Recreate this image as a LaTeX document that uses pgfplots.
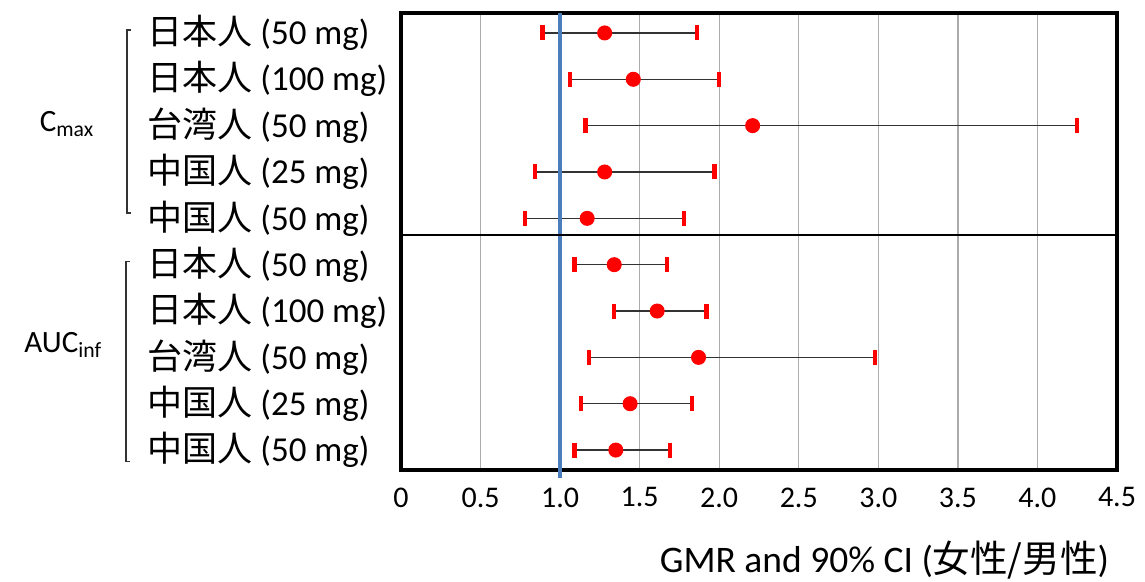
\documentclass[border=0pt]{standalone}
\usepackage{pgfplots}
\usepackage{pgfplotstable}
\pgfplotsset{compat=1.18}
\usepackage{fontspec}
\setmainfont{Carlito}
\newfontfamily\cjk{Noto Sans CJK JP}
\definecolor{refblue}{RGB}{74,126,187}

% GMR with lower and upper limit of the 90% CI, rows from top (0) to bottom (9)
\pgfplotstableread{
y gmr lo hi
0 1.28 0.89 1.86
1 1.46 1.06 2.00
2 2.21 1.16 4.25
3 1.28 0.84 1.97
4 1.17 0.78 1.78
5 1.34 1.09 1.67
6 1.61 1.34 1.92
7 1.87 1.18 2.98
8 1.44 1.13 1.83
9 1.35 1.09 1.69
}\gmrdata

\begin{document}
\begin{tikzpicture}
\begin{axis}[
  at={(0,0)}, anchor=south west,
  scale only axis,
  width=286.4pt, height=182.8pt,
  xmin=0, xmax=4.5,
  ymin=-0.43, ymax=9.43,
  y dir=reverse,
  axis line style={black, line width=1.3pt},
  xtick={0,0.5,...,4.5},
  xticklabels={0,0.5,1.0,1.5,2.0,2.5,3.0,3.5,4.0,4.5},
  xticklabel style={font=\fontsize{12}{14}\selectfont, yshift=-3.5pt},
  ytick={0,...,9},
  yticklabels={
    {\cjk 日本人} (50 mg), {\cjk 日本人} (100 mg), {\cjk 台湾人} (50 mg),
    {\cjk 中国人} (25 mg), {\cjk 中国人} (50 mg),
    {\cjk 日本人} (50 mg), {\cjk 日本人} (100 mg), {\cjk 台湾人} (50 mg),
    {\cjk 中国人} (25 mg), {\cjk 中国人} (50 mg)},
  yticklabel style={font=\fontsize{14}{16}\selectfont, anchor=west, inner sep=0pt, xshift=-101.6pt},
  major tick length=0pt,
  xmajorgrids,
  grid style={gray!65, line width=0.5pt},
  xlabel={GMR and 90\% CI ({\cjk 女性/男性})},
  xlabel style={font=\fontsize{15}{17}\selectfont, at={(axis description cs:1,0)}, anchor=north east, inner sep=0pt, yshift=-28pt, xshift=-3pt},
  clip=false,
]
\addplot[draw=none, mark=none,
  error bars/.cd, x dir=both, x explicit,
  error bar style={black!80, line width=0.5pt},
  error mark=|,
  error mark options={red, line width=1.7pt, mark size=3pt}]
  table[x=gmr, y=y,
    x error plus expr=\thisrow{hi}-\thisrow{gmr},
    x error minus expr=\thisrow{gmr}-\thisrow{lo}] {\gmrdata};
\addplot[only marks, mark=*, mark size=2.8pt, red] table[x=gmr, y=y] {\gmrdata};
\addplot[refblue, line width=1.8pt] coordinates {(1,-0.43) (1,9.6)};
\addplot[black, line width=0.8pt] coordinates {(0,4.35) (4.5,4.35)};
\end{axis}
% group brackets and labels
\draw[black!80, line width=0.6pt] (-108.0pt,176pt) -- (-109.6pt,176pt) -- (-109.6pt,102.8pt) -- (-108.0pt,102.8pt);
\draw[black!80, line width=0.6pt] (-108.4pt,83.3pt) -- (-110pt,83.3pt) -- (-110pt,3.3pt) -- (-108.4pt,3.3pt);
\node[anchor=east, inner sep=0pt, font=\fontsize{12.4}{14}\selectfont] at (-122.4pt,138.4pt) {C\textsubscript{max}};
\node[anchor=east, inner sep=0pt, font=\fontsize{12.4}{14}\selectfont] at (-119.2pt,50pt) {AUC\textsubscript{inf}};
\pgfresetboundingbox
\path[use as bounding box] (-160.4pt,-44.8pt) rectangle (297.6pt,188pt);
\end{tikzpicture}
\end{document}
